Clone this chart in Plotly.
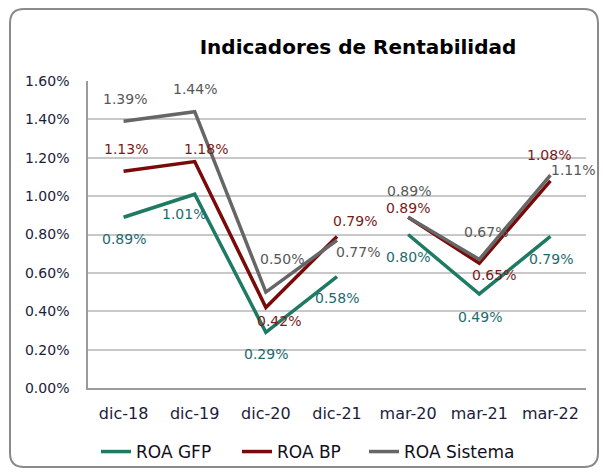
import plotly.graph_objects as go

categories = ["dic-18", "dic-19", "dic-20", "dic-21", "mar-20", "mar-21", "mar-22"]
roa_gfp = [0.89, 1.01, 0.29, 0.58, 0.80, 0.49, 0.79]
roa_bp = [1.13, 1.18, 0.42, 0.79, 0.89, 0.65, 1.08]
roa_sistema = [1.39, 1.44, 0.50, 0.77, 0.89, 0.67, 1.11]
series_names = ["ROA GFP", "ROA BP", "ROA Sistema"]
y_ticks = [0.0, 0.2, 0.4, 0.6, 0.8, 1.0, 1.2, 1.4, 1.6]
y_tick_labels = ["0.00%", "0.20%", "0.40%", "0.60%", "0.80%", "1.00%", "1.20%", "1.40%", "1.60%"]

# line segments (the line is broken between dic-21 and mar-20)
segments = [(0, 4), (4, 7)]

# styles
line_colors = ["#1E7A63", "#7A0A0A", "#666666"]
label_colors = ["#1F6A6E", "#7A1A1A", "#575757"]
FONT = "DejaVu Sans"
# label offsets in pixels (dx, dy) ; dy positive = up
label_offsets = [
    [(0, -22), (-11, -20), (0, -22), (0, -21), (0, -22), (1, -23), (1, -23)],
    [(2, 22), (11, 13), (13, -14), (18, 15), (0, 9), (15, -12), (-1, 26)],
    [(1, 22), (0, 23), (16, 33), (21, -12), (1, 26), (7, 27), (23, 5)],
]
legend_ids = ["legend", "legend2", "legend3"]
legend_px = [96, 237, 364]

all_series = [roa_gfp, roa_bp, roa_sistema]

fig = go.Figure()
for s, (name, vals) in enumerate(zip(series_names, all_series)):
    for k, (a, b) in enumerate(segments):
        fig.add_trace(go.Scatter(
            x=categories[a:b], y=vals[a:b], mode="lines", name=name,
            legendgroup=name, showlegend=(k == 0), legend=legend_ids[s],
            line=dict(color=line_colors[s], width=3.5),
            hoverinfo="skip",
        ))

annotations = []
for s, vals in enumerate(all_series):
    for i, v in enumerate(vals):
        dx, dy = label_offsets[s][i]
        annotations.append(dict(
            x=categories[i], y=v, xref="x", yref="y", text=f"{v:.2f}%",
            showarrow=False, xshift=dx, yshift=dy,
            font=dict(family=FONT, size=14, color=label_colors[s]),
        ))

# geometry of plot area in pixels (for the chart border)
W, H = 603, 473
ml, mr, mt, mb = 88, 17, 81, 85
pw, ph = W - ml - mr, H - mt - mb

def px(xp):
    return (xp - ml) / pw

def py(yp):
    return (H - mb - yp) / ph

x0, x1, y0, y1, r = 10, 598, 9, 467, 14
path = (f"M {px(x0 + r)},{py(y0)} L {px(x1 - r)},{py(y0)} "
        f"Q {px(x1)},{py(y0)} {px(x1)},{py(y0 + r)} "
        f"L {px(x1)},{py(y1 - r)} Q {px(x1)},{py(y1)} {px(x1 - r)},{py(y1)} "
        f"L {px(x0 + r)},{py(y1)} Q {px(x0)},{py(y1)} {px(x0)},{py(y1 - r)} "
        f"L {px(x0)},{py(y0 + r)} Q {px(x0)},{py(y0)} {px(x0 + r)},{py(y0)} Z")

def legend_style(xp):
    return dict(orientation="h", x=px(xp), xanchor="left", y=py(452), yanchor="middle",
                font=dict(family=FONT, size=17, color="#101020"),
                bgcolor="rgba(0,0,0,0)", itemwidth=30)

fig.update_layout(
    width=W, height=H,
    margin=dict(l=ml, r=mr, t=mt, b=mb, autoexpand=False),
    paper_bgcolor="white", plot_bgcolor="white",
    font=dict(family=FONT, color="#202040"),
    title=dict(text="Indicadores de Rentabilidad", x=358 / W, xanchor="center",
               y=1 - 47 / H, yanchor="middle",
               font=dict(family=FONT, size=20, color="#000000", weight="bold")),
    xaxis=dict(type="category", range=[-0.5, len(categories) - 0.5],
               showgrid=False, showline=True, linecolor="#9A9A9A",
               linewidth=1.5, ticks="outside", ticklen=10, tickcolor="rgba(0,0,0,0)",
               tickfont=dict(family=FONT, size=16, color="#1C1C3C"), fixedrange=True,
               automargin=False),
    yaxis=dict(range=[0, 1.6], tickvals=y_ticks, ticktext=y_tick_labels,
               showgrid=True, gridcolor="#C8C8C8", gridwidth=1.5,
               showline=True, linecolor="#9A9A9A", linewidth=1.5,
               ticks="outside", ticklen=14, tickcolor="rgba(0,0,0,0)",
               tickfont=dict(family=FONT, size=14, color="#1C1C3C"),
               zeroline=False, fixedrange=True, automargin=False),
    showlegend=True,
    legend=legend_style(legend_px[0]),
    legend2=legend_style(legend_px[1]),
    legend3=legend_style(legend_px[2]),
    annotations=annotations,
    shapes=[dict(type="path", path=path, xref="paper", yref="paper",
                 line=dict(color="#8A8A8A", width=2), layer="below")],
)

fig.write_html("out.html", config={"displayModeBar": False},
               post_script="document.body.style.margin='0';document.body.style.overflow='hidden';")
